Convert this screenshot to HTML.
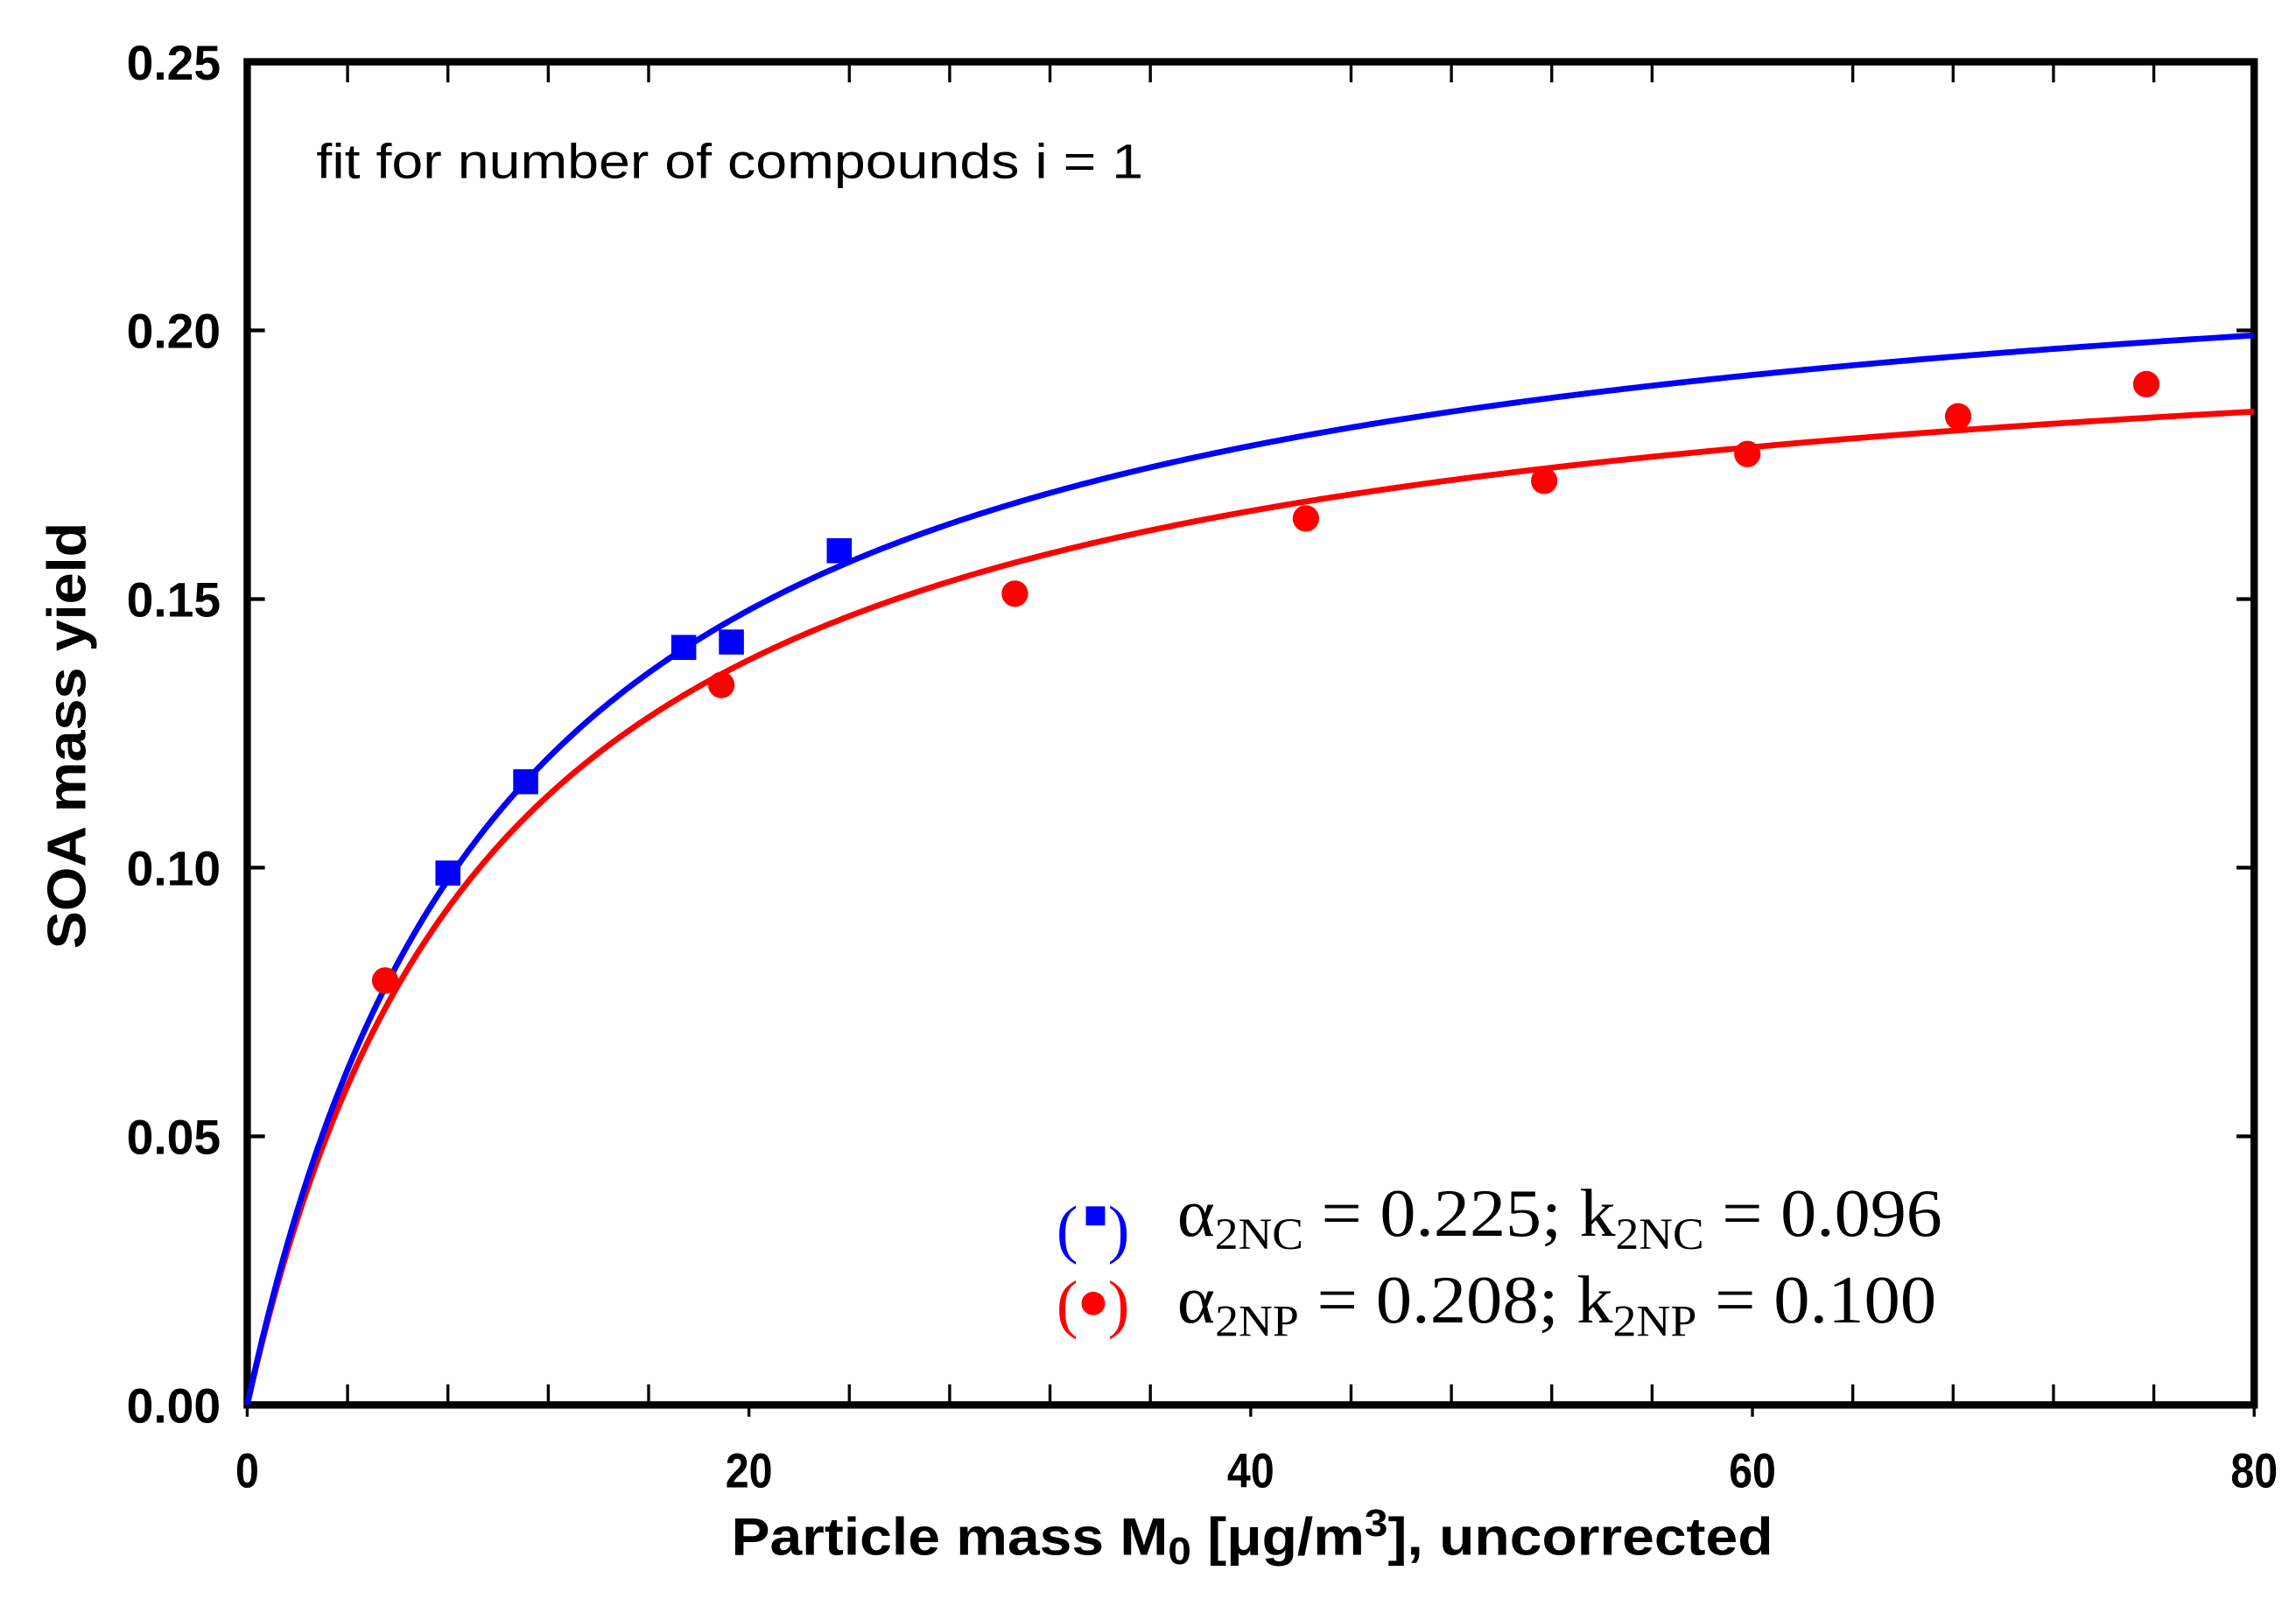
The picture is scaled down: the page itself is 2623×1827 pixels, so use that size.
<!DOCTYPE html>
<html><head><meta charset="utf-8"><style>
html,body{margin:0;padding:0;background:#fff;}
svg{display:block;}
</style></head><body>
<svg id="chart" width="2623" height="1827" viewBox="0 0 1560.4 1086.9" xmlns="http://www.w3.org/2000/svg">
<g id="grid"></g>
<g id="marks"></g>
<text x="215" y="121" font-family="Liberation Sans Narrow, Liberation Sans, sans-serif" font-size="33" textLength="562" lengthAdjust="spacingAndGlyphs">fit for number of compounds i = 1</text>
<text transform="translate(58,500) rotate(-90)" text-anchor="middle" font-family="Liberation Sans, sans-serif" font-weight="bold" font-size="37" textLength="290" lengthAdjust="spacingAndGlyphs">SOA mass yield</text>
<text x="851" y="1057" text-anchor="middle" font-family="Liberation Sans, sans-serif" font-weight="bold" font-size="36" textLength="708" lengthAdjust="spacingAndGlyphs">Particle mass M<tspan font-size="26" dy="6">0</tspan><tspan dy="-6"> [μg/m</tspan><tspan font-size="26" dy="-13">3</tspan><tspan dy="13">], uncorrected</tspan></text>
<g font-family="Liberation Serif, serif">
 <g>
  <text x="718" y="850" font-size="44" fill="#0000ff">(</text>
  <rect x="738" y="820" width="13" height="13" fill="#0000ff"/>
  <text x="753" y="850" font-size="44" fill="#0000ff">)</text>
  <text x="800" y="840" font-size="46" textLength="520" lengthAdjust="spacingAndGlyphs">α<tspan font-size="30" dy="9">2NC</tspan><tspan dy="-9"> = 0.225; k</tspan><tspan font-size="30" dy="9">2NC</tspan><tspan dy="-9"> = 0.096</tspan></text>
 </g>
 <g>
  <text x="718" y="901" font-size="44" fill="#ff0000">(</text>
  <circle cx="743" cy="886" r="8" fill="#ff0000"/>
  <text x="753" y="901" font-size="44" fill="#ff0000">)</text>
  <text x="800" y="899" font-size="46" textLength="516" lengthAdjust="spacingAndGlyphs">α<tspan font-size="30" dy="9">2NP</tspan><tspan dy="-9"> = 0.208; k</tspan><tspan font-size="30" dy="9">2NP</tspan><tspan dy="-9"> = 0.100</tspan></text>
 </g>
</g>
</svg>
<script>
const xTicks = [0, 20, 40, 60, 80];
const yTicks = [0.00, 0.05, 0.10, 0.15, 0.20, 0.25];
const yTickLabels = ["0.00", "0.05", "0.10", "0.15", "0.20", "0.25"];
const ncX = [8.0, 11.1, 17.4, 19.3, 23.6];
const ncY = [0.099, 0.116, 0.141, 0.142, 0.159];
const npX = [5.5, 18.9, 30.6, 42.2, 51.7, 59.8, 68.2, 75.7];
const npY = [0.079, 0.134, 0.151, 0.165, 0.172, 0.177, 0.184, 0.190];
const ncFit = [0.225, 0.096];
const npFit = [0.208, 0.100];

const L = 168, R = 1532, T = 42, B = 955;
const sx = v => L + (v - 0) / 80 * (R - L);
const sy = v => B - v / 0.25 * (B - T);
const NS = "http://www.w3.org/2000/svg";
const grid = document.getElementById('grid');
const marks = document.getElementById('marks');
function mk(tag, attrs, parent) {
  const e = document.createElementNS(NS, tag);
  for (const k in attrs) e.setAttribute(k, attrs[k]);
  parent.appendChild(e);
  return e;
}
yTicks.forEach((v, i) => {
  const y = sy(v);
  const t1 = mk('line', {x1: L, x2: L + 12, y1: y, y2: y, stroke: '#000', 'stroke-width': 2.5}, grid);
  
  
  const t2 = mk('line', {x1: R, x2: R - 12, y1: y, y2: y, stroke: '#000', 'stroke-width': 2.5}, grid);
  
  
  const lb = mk('text', {x: 150, y: y + 12, 'text-anchor': 'end', 'font-family': 'Liberation Sans, sans-serif', 'font-weight': 'bold', 'font-size': 33, textLength: 64, lengthAdjust: 'spacingAndGlyphs'}, grid);
  lb.textContent = yTickLabels[i];
  
  
});
for (let v = 4; v < 80; v += 4) {
  if (v % 20 === 0) continue;
  const x = sx(v);
  const a = mk('line', {x1: x, x2: x, y1: B, y2: B - 14, stroke: '#000', 'stroke-width': 2}, grid);
  
  
  const b = mk('line', {x1: x, x2: x, y1: T, y2: T + 14, stroke: '#000', 'stroke-width': 2}, grid);
  
  
}
xTicks.forEach(v => {
  const x = sx(v);
  const a = mk('line', {x1: x, x2: x, y1: B, y2: B + 8, stroke: '#000', 'stroke-width': 2}, grid);
  
  
  const s = String(v);
  const lb = mk('text', {x: x, y: 1011, 'text-anchor': 'middle', 'font-family': 'Liberation Sans, sans-serif', 'font-weight': 'bold', 'font-size': 33, textLength: s.length * 16, lengthAdjust: 'spacingAndGlyphs'}, grid);
  lb.textContent = s;
  
  
});
const frame = mk('rect', {x: L, y: T, width: R - L, height: B - T, fill: 'none', stroke: '#000', 'stroke-width': 5}, grid);


function curve(p, color, name) {
  let d = '';
  for (let i = 0; i <= 400; i++) {
    const m = 80 * i / 400;
    const yv = m * p[0] * p[1] / (1 + p[1] * m);
    d += (i ? 'L' : 'M') + sx(m).toFixed(2) + ',' + sy(yv).toFixed(2);
  }
  const e = mk('path', {d: d, fill: 'none', stroke: color, 'stroke-width': 4}, marks);
  
  
}
curve(npFit, '#ff0000', 'fit-curve-2np');
curve(ncFit, '#0000ff', 'fit-curve-2nc');
npX.forEach((v, i) => {
  const c = mk('circle', {cx: sx(v), cy: sy(npY[i]), r: 9, fill: '#ff0000'}, marks);
  
  
});
ncX.forEach((v, i) => {
  const r = mk('rect', {x: sx(v) - 8.5, y: sy(ncY[i]) - 8.5, width: 17, height: 17, fill: '#0000ff'}, marks);
  
  
});
</script>
</body></html>
